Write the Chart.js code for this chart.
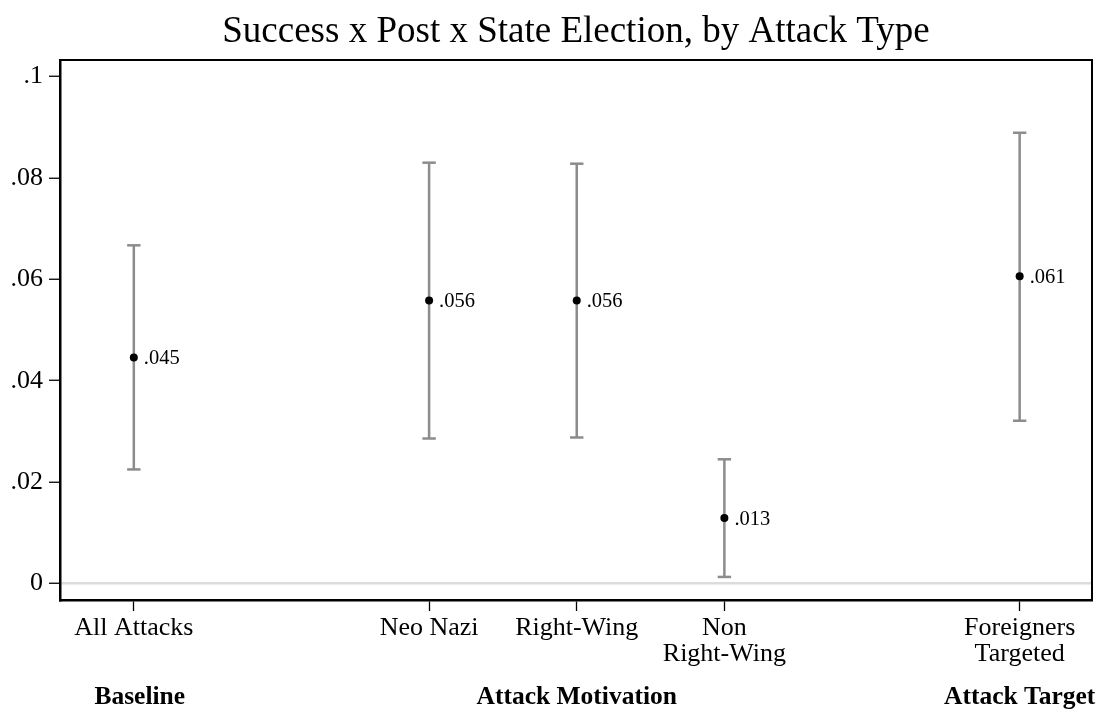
<!DOCTYPE html>
<html>
<head>
<meta charset="utf-8">
<title>Success x Post x State Election, by Attack Type</title>
<script src="https://cdn.jsdelivr.net/npm/chart.js@4"></script>
<style>
  html, body { margin: 0; padding: 0; background: #fff; }
  #wrap { width: 1105px; height: 710px; }
</style>
</head>
<body>
<div id="wrap"><canvas id="chart" width="1105" height="710"></canvas></div>
<script>
// Coefficient estimates with 95% confidence intervals, one per attack subset
const titleText = 'Success x Post x State Election, by Attack Type';
const categories = ['All Attacks', 'Neo Nazi', 'Right-Wing', ['Non', 'Right-Wing'], ['Foreigners', 'Targeted']];
const positions = [1, 3, 4, 5, 7];
const estimates = [0.0446, 0.0558, 0.0558, 0.0129, 0.0606];
const ciLower = [0.0225, 0.0286, 0.0288, 0.0013, 0.0321];
const ciUpper = [0.0667, 0.0830, 0.0828, 0.0245, 0.0889];
const groupLabels = ['Baseline', 'Attack Motivation', 'Attack Target'];
const groupPositions = [1.04, 4, 7];
const yTicks = [0, 0.02, 0.04, 0.06, 0.08, 0.1];

const SERIF = "'Liberation Serif', 'Times New Roman', 'DejaVu Serif', serif";
const CI_GRAY = '#8c8c8c';

// Interval segments: lower and upper end per category, broken by a gap
const ciPoints = [];
positions.forEach((x, i) => {
  ciPoints.push({ x: x, y: ciLower[i] }, { x: x, y: ciUpper[i] }, { x: x, y: null });
});
const estPoints = positions.map((x, i) => ({ x: x, y: estimates[i] }));

const fmtEstimate = v => '.' + String(Math.round(v * 1000)).padStart(3, '0');
const fmtAxis = v => v === 0 ? '0' : v.toFixed(2).replace(/0+$/, '').replace(/^0/, '');

// Top and right edges of the plot box
const framePlugin = {
  id: 'frame',
  afterDraw(chart) {
    const { ctx, chartArea: a } = chart;
    ctx.save();
    ctx.strokeStyle = '#000';
    ctx.lineWidth = 2;
    ctx.beginPath();
    ctx.moveTo(a.left, a.top);
    ctx.lineTo(a.right, a.top);
    ctx.lineTo(a.right, a.bottom);
    ctx.stroke();
    ctx.restore();
  }
};

// Value labels beside each estimate
const valueLabels = {
  id: 'valueLabels',
  afterDatasetsDraw(chart) {
    const { ctx } = chart;
    const meta = chart.getDatasetMeta(1);
    ctx.save();
    ctx.fillStyle = '#000';
    ctx.font = '20.5px ' + SERIF;
    ctx.textAlign = 'left';
    ctx.textBaseline = 'middle';
    meta.data.forEach((pt, i) => {
      ctx.fillText(fmtEstimate(estimates[i]), pt.x + 10, pt.y + 1);
    });
    ctx.restore();
  }
};

// Title above the plot box and group headings under the category labels
const headings = {
  id: 'headings',
  afterDraw(chart) {
    const { ctx, chartArea: a } = chart;
    const xs = chart.scales.x;
    ctx.save();
    ctx.fillStyle = '#000';
    ctx.textAlign = 'center';
    ctx.textBaseline = 'alphabetic';
    ctx.font = '37px ' + SERIF;
    ctx.fillText(titleText, (a.left + a.right) / 2, 42);
    ctx.font = 'bold 25.5px ' + SERIF;
    groupLabels.forEach((g, i) => {
      ctx.fillText(g, xs.getPixelForValue(groupPositions[i]), 704);
    });
    ctx.restore();
  }
};

new Chart(document.getElementById('chart'), {
  type: 'scatter',
  data: {
    datasets: [
      {
        data: ciPoints,
        showLine: true,
        spanGaps: false,
        borderColor: CI_GRAY,
        borderWidth: 2.5,
        pointStyle: 'line',
        pointRadius: 6.7,
        pointBorderColor: CI_GRAY,
        pointBorderWidth: 2.5,
        pointBackgroundColor: CI_GRAY,
        order: 2
      },
      {
        data: estPoints,
        pointRadius: 4,
        pointBackgroundColor: '#000',
        pointBorderColor: '#000',
        pointBorderWidth: 0,
        order: 1
      }
    ]
  },
  options: {
    responsive: false,
    animation: false,
    devicePixelRatio: 1,
    events: [],
    layout: { padding: { top: 60, right: 13, left: 0, bottom: 0 } },
    plugins: {
      legend: { display: false },
      tooltip: { enabled: false },
      title: { display: false }
    },
    scales: {
      x: {
        type: 'linear',
        min: 0.5,
        max: 7.49,
        afterBuildTicks: s => { s.ticks = positions.map(v => ({ value: v })); },
        afterFit: s => { s.height = 110; },
        grid: { drawOnChartArea: false, tickLength: 11, tickWidth: 1.3, tickColor: '#000' },
        border: { display: true, color: '#000', width: 2.5 },
        ticks: {
          callback: v => categories[positions.indexOf(v)],
          font: { family: SERIF, size: 26, lineHeight: 1.03 },
          color: '#000',
          padding: 3.5,
          maxRotation: 0,
          autoSkip: false
        }
      },
      y: {
        type: 'linear',
        min: -0.00325,
        max: 0.10325,
        afterBuildTicks: s => { s.ticks = yTicks.map(v => ({ value: v })); },
        afterFit: s => { s.width = 60; },
        grid: {
          color: c => (c.tick && c.tick.value === 0) ? '#dcdcdc' : 'rgba(0,0,0,0)',
          lineWidth: 2.5,
          tickLength: 11,
          tickWidth: 1.3,
          tickColor: '#000'
        },
        border: { display: true, color: '#000', width: 2.5 },
        ticks: {
          callback: v => fmtAxis(v),
          font: { family: SERIF, size: 26 },
          color: '#000',
          padding: 6
        }
      }
    }
  },
  plugins: [framePlugin, valueLabels, headings]
});
</script>
</body>
</html>
